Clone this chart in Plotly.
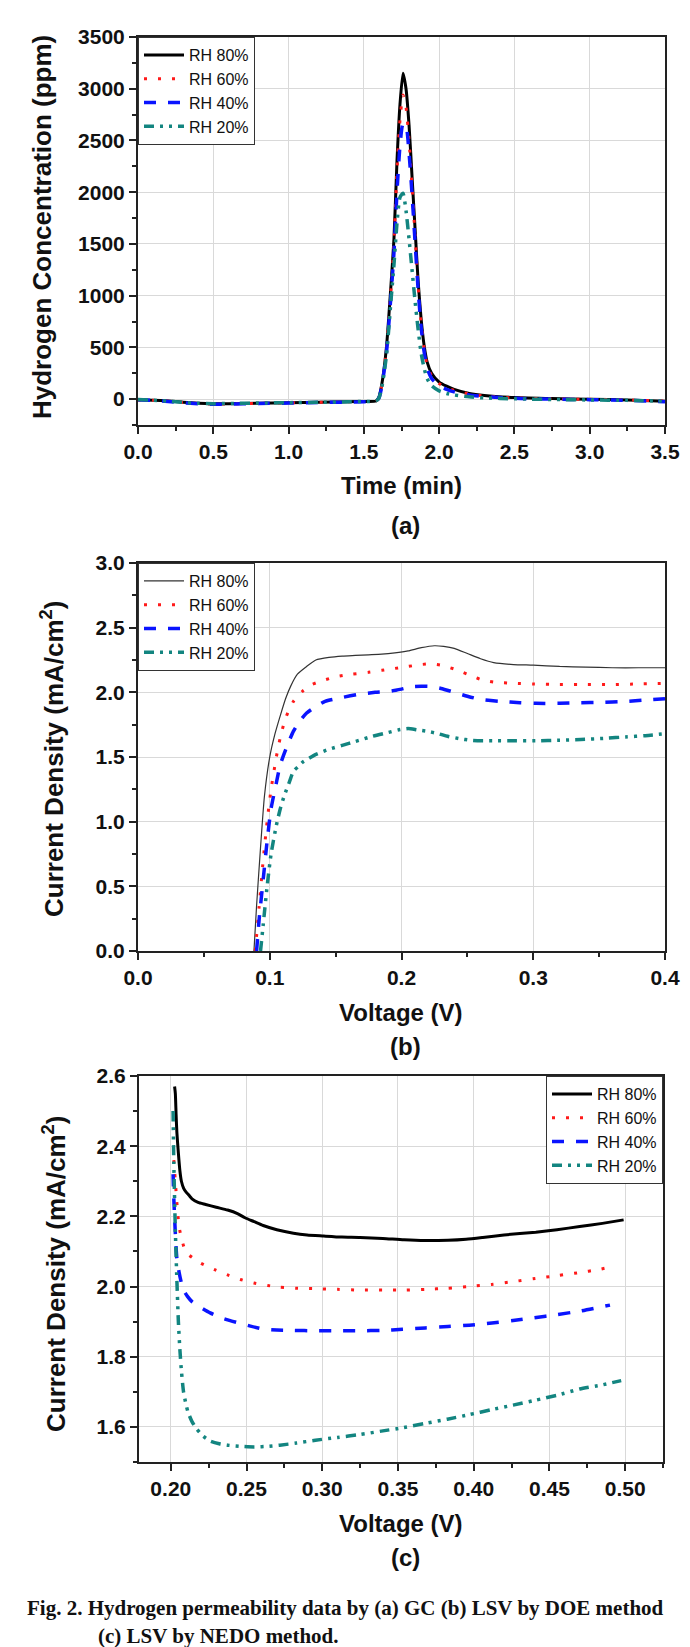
import plotly.graph_objects as go

# ---------------- Panel (a): GC ----------------
time_min = [0, 0.1, 0.2, 0.3, 0.4, 0.5, 0.6, 0.8, 1.0, 1.2, 1.4, 1.5, 1.58, 1.6, 1.62, 1.65,
            1.68, 1.7, 1.72, 1.74, 1.76, 1.78, 1.8, 1.82, 1.84, 1.86, 1.88, 1.9, 1.92, 1.95,
            2.0, 2.05, 2.1, 2.2, 2.3, 2.5, 2.75, 3.0, 3.25, 3.5]
gc_rh80 = [-5, -10, -18, -30, -40, -45, -45, -40, -35, -30, -25, -22, -18, 20, 150, 500,
           1100, 1550, 2300, 2850, 3150, 3000, 2650, 2150, 1650, 1150, 780, 520, 360, 250,
           165, 125, 95, 55, 35, 15, 5, 0, -8, -20]
gc_rh60 = [-8, -12, -20, -32, -42, -48, -46, -40, -35, -30, -26, -23, -19, 15, 140, 480,
           1050, 1500, 2200, 2700, 2940, 2820, 2500, 2050, 1580, 1100, 740, 490, 330, 225,
           150, 110, 85, 50, 30, 12, 3, -2, -8, -18]
gc_rh40 = [-6, -12, -22, -35, -45, -50, -48, -42, -38, -33, -28, -25, -20, 10, 130, 450,
           1000, 1420, 2000, 2450, 2660, 2640, 2380, 1980, 1520, 1070, 700, 460, 300, 200,
           130, 95, 70, 40, 25, 8, 0, -5, -12, -25]
gc_rh20 = [-4, -10, -20, -32, -40, -44, -42, -38, -34, -30, -26, -22, -18, 10, 120, 420,
           950, 1300, 1700, 1950, 1990, 1820, 1550, 1250, 950, 680, 450, 300, 200, 130,
           80, 55, 40, 22, 12, 3, -3, -8, -12, -20]

# ---------------- Panel (b): LSV by DOE ----------------
doe_v80 = [0.088, 0.090, 0.093, 0.096, 0.100, 0.104, 0.108, 0.112, 0.116, 0.121, 0.128, 0.135,
           0.145, 0.155, 0.165, 0.175, 0.185, 0.195, 0.205, 0.215, 0.225, 0.232, 0.240, 0.250,
           0.260, 0.270, 0.285, 0.300, 0.320, 0.340, 0.360, 0.380, 0.400]
doe_i80 = [0.0, 0.35, 0.80, 1.20, 1.50, 1.68, 1.82, 1.95, 2.05, 2.14, 2.20, 2.25,
           2.27, 2.28, 2.285, 2.29, 2.295, 2.305, 2.32, 2.345, 2.36, 2.355, 2.34, 2.30,
           2.26, 2.23, 2.215, 2.21, 2.20, 2.195, 2.19, 2.19, 2.19]
doe_v60 = [0.089, 0.092, 0.095, 0.098, 0.101, 0.105, 0.108, 0.112, 0.118, 0.125, 0.132, 0.140,
           0.150, 0.162, 0.175, 0.185, 0.195, 0.205, 0.215, 0.222, 0.230, 0.240, 0.250, 0.260,
           0.270, 0.285, 0.300, 0.320, 0.340, 0.360, 0.380, 0.400]
doe_i60 = [0.0, 0.35, 0.70, 1.00, 1.25, 1.50, 1.65, 1.80, 1.93, 2.01, 2.06, 2.09,
           2.12, 2.14, 2.155, 2.17, 2.185, 2.20, 2.215, 2.22, 2.21, 2.18, 2.14, 2.10,
           2.08, 2.07, 2.065, 2.06, 2.06, 2.06, 2.065, 2.07]
doe_v40 = [0.090, 0.092, 0.095, 0.098, 0.101, 0.105, 0.108, 0.113, 0.118, 0.123, 0.128, 0.135,
           0.142, 0.155, 0.168, 0.180, 0.192, 0.200, 0.209, 0.222, 0.230, 0.240, 0.250, 0.260,
           0.275, 0.290, 0.302, 0.320, 0.336, 0.350, 0.370, 0.385, 0.400]
doe_i40 = [0.0, 0.25, 0.55, 0.85, 1.10, 1.30, 1.44, 1.58, 1.70, 1.78, 1.84, 1.89,
           1.93, 1.96, 1.985, 2.0, 2.01, 2.025, 2.045, 2.045, 2.03, 2.0, 1.97, 1.945,
           1.93, 1.92, 1.915, 1.915, 1.92, 1.922, 1.93, 1.94, 1.95]
doe_v20 = [0.093, 0.095, 0.098, 0.101, 0.105, 0.108, 0.111, 0.115, 0.118, 0.122, 0.125, 0.130,
           0.135, 0.145, 0.155, 0.165, 0.178, 0.190, 0.198, 0.205, 0.212, 0.219, 0.228, 0.235,
           0.245, 0.252, 0.260, 0.269, 0.285, 0.302, 0.320, 0.336, 0.355, 0.370, 0.385, 0.400]
doe_i20 = [0.0, 0.20, 0.50, 0.75, 0.97, 1.10, 1.20, 1.31, 1.39, 1.43, 1.46, 1.49,
           1.52, 1.56, 1.59, 1.62, 1.66, 1.69, 1.71, 1.72, 1.71, 1.70, 1.68, 1.66,
           1.64, 1.63, 1.625, 1.625, 1.625, 1.625, 1.63, 1.635, 1.645, 1.655, 1.665, 1.68]

# ---------------- Panel (c): LSV by NEDO ----------------
nedo_v80 = [0.2025, 0.2030, 0.2035, 0.2040, 0.2050, 0.2060, 0.2070, 0.2085, 0.2100, 0.2120,
            0.2140, 0.2180, 0.2230, 0.2300, 0.2375, 0.2440, 0.2490, 0.2550, 0.2610, 0.2700,
            0.2810, 0.2900, 0.3010, 0.3130, 0.3250, 0.3400, 0.3540, 0.3680, 0.3830, 0.3950,
            0.4060, 0.4200, 0.4410, 0.4550, 0.4700, 0.4850, 0.4990]
nedo_i80 = [2.57, 2.55, 2.49, 2.44, 2.38, 2.33, 2.30, 2.28, 2.27, 2.26,
            2.25, 2.24, 2.234, 2.226, 2.218, 2.208, 2.196, 2.185, 2.174, 2.162,
            2.152, 2.147, 2.144, 2.141, 2.14, 2.137, 2.133, 2.131, 2.132, 2.135,
            2.14, 2.147, 2.155, 2.162, 2.171, 2.18, 2.19]
nedo_v60 = [0.2020, 0.2030, 0.2040, 0.2055, 0.2075, 0.2100, 0.2150, 0.2200, 0.2290, 0.2375,
            0.2460, 0.2550, 0.2640, 0.2720, 0.2840, 0.2955, 0.3100, 0.3246, 0.3400, 0.3536,
            0.3680, 0.3826, 0.3970, 0.4117, 0.4260, 0.4407, 0.4550, 0.4700, 0.4820, 0.4915]
nedo_i60 = [2.36, 2.30, 2.24, 2.17, 2.13, 2.098, 2.08, 2.066, 2.048, 2.033,
            2.02, 2.01, 2.003, 1.998, 1.995, 1.994, 1.992, 1.99, 1.99, 1.99,
            1.992, 1.995, 2.0, 2.006, 2.014, 2.023, 2.031, 2.04, 2.048, 2.057]
nedo_v40 = [0.2015, 0.2020, 0.2030, 0.2040, 0.2055, 0.2070, 0.2084, 0.2110, 0.2140, 0.2200,
            0.2260, 0.2340, 0.2433, 0.2520, 0.2610, 0.2700, 0.2810, 0.2950, 0.3100, 0.3250,
            0.3390, 0.3530, 0.3680, 0.3830, 0.3970, 0.4120, 0.4260, 0.4400, 0.4550, 0.4700,
            0.4900]
nedo_i40 = [2.32, 2.25, 2.15, 2.08, 2.04, 2.01, 1.99, 1.972, 1.957, 1.94,
            1.925, 1.91, 1.898, 1.888, 1.879, 1.876, 1.875, 1.874, 1.874, 1.874,
            1.875, 1.878, 1.882, 1.886, 1.89, 1.896, 1.903, 1.911, 1.92, 1.93,
            1.947]
nedo_v20 = [0.2015, 0.2020, 0.2030, 0.2040, 0.2050, 0.2060, 0.2070, 0.2084, 0.2100, 0.2113,
            0.2140, 0.2170, 0.2210, 0.2260, 0.2320, 0.2375, 0.2450, 0.2550, 0.2650, 0.2720,
            0.2830, 0.2955, 0.3100, 0.3246, 0.3390, 0.3536, 0.3680, 0.3826, 0.3970, 0.4117,
            0.4260, 0.4407, 0.4550, 0.4700, 0.4850, 0.4974]
nedo_i20 = [2.50, 2.35, 2.16, 2.02, 1.90, 1.82, 1.76, 1.70, 1.665, 1.643,
            1.615, 1.595, 1.575, 1.56, 1.552, 1.548, 1.545, 1.543, 1.545, 1.548,
            1.554, 1.562, 1.57, 1.578, 1.588, 1.598, 1.61, 1.622, 1.635, 1.649,
            1.662, 1.676, 1.69, 1.708, 1.72, 1.732]

series_names = ["RH 80%", "RH 60%", "RH 40%", "RH 20%"]

# ---------------- styling ----------------
W, H = 690, 1647
BLACK = "#000000"
RED = "#ff1a1a"
BLUE = "#0a14ff"
TEAL = "#138580"
SANS = "Liberation Sans, Arial, sans-serif"
SERIF = "Liberation Serif, Times New Roman, serif"

styles = [
    dict(color=BLACK, width=3, dash="solid"),
    dict(color=RED, width=3, dash="3px,11px"),
    dict(color=BLUE, width=3.5, dash="12px,12px"),
    dict(color=TEAL, width=3.5, dash="10px,6px,3px,6px,3px,6px"),
]


def px_x(p):
    return p / W


def px_y(p):
    return 1 - p / H


fig = go.Figure()

panels = [
    ("", "legend", [(time_min, gc_rh80), (time_min, gc_rh60), (time_min, gc_rh40), (time_min, gc_rh20)]),
    ("2", "legend2", [(doe_v80, doe_i80), (doe_v60, doe_i60), (doe_v40, doe_i40), (doe_v20, doe_i20)]),
    ("3", "legend3", [(nedo_v80, nedo_i80), (nedo_v60, nedo_i60), (nedo_v40, nedo_i40), (nedo_v20, nedo_i20)]),
]

for pi, (suffix, leg, data) in enumerate(panels):
    for si, (xs, ys) in enumerate(data):
        st = dict(styles[si])
        if pi == 1 and si == 0:
            st = dict(color="#333333", width=1.2, dash="solid")
        fig.add_trace(go.Scatter(
            x=xs, y=ys, mode="lines", name=series_names[si],
            line=dict(color=st["color"], width=st["width"], dash=st["dash"], shape="spline", smoothing=0.6),
            xaxis="x" + suffix, yaxis="y" + suffix, legend=leg,
        ))

tickfont = dict(family=SANS, size=21, color="#111111", weight="bold")
axis_common = dict(
    showline=True, linewidth=2, linecolor="#222222", mirror=True,
    ticks="outside", ticklen=7, tickwidth=1.5, tickcolor="#222222",
    showgrid=True, gridcolor="#d9d9d9", gridwidth=1, zeroline=False,
    tickfont=tickfont, automargin=False,
)

# pixel frames: (left, right, top, bottom)
frames = [(130, 657, 29, 417), (130, 657, 555, 943), (131, 655, 1068, 1454)]

fig.update_layout(
    xaxis=dict(**axis_common, domain=[px_x(frames[0][0]), px_x(frames[0][1])], anchor="y",
               range=[0, 3.5], dtick=0.5, tick0=0, tickformat=".1f",
               minor=dict(ticks="outside", ticklen=4, dtick=0.25, tick0=0, tickwidth=1.5, tickcolor="#222222", showgrid=False)),
    yaxis=dict(**axis_common, domain=[px_y(frames[0][3]), px_y(frames[0][2])], anchor="x",
               range=[-250, 3500], dtick=500, tick0=0,
               minor=dict(ticks="outside", ticklen=4, dtick=250, tick0=0, tickwidth=1.5, tickcolor="#222222", showgrid=False)),
    xaxis2=dict(**axis_common, domain=[px_x(frames[1][0]), px_x(frames[1][1])], anchor="y2",
                range=[0, 0.4], dtick=0.1, tick0=0, tickformat=".1f",
                minor=dict(ticks="outside", ticklen=4, dtick=0.05, tick0=0, tickwidth=1.5, tickcolor="#222222", showgrid=False)),
    yaxis2=dict(**axis_common, domain=[px_y(frames[1][3]), px_y(frames[1][2])], anchor="x2",
                range=[0, 3.0], dtick=0.5, tick0=0, tickformat=".1f",
                minor=dict(ticks="outside", ticklen=4, dtick=0.25, tick0=0, tickwidth=1.5, tickcolor="#222222", showgrid=False)),
    xaxis3=dict(**axis_common, domain=[px_x(frames[2][0]), px_x(frames[2][1])], anchor="y3",
                range=[0.179, 0.525], dtick=0.05, tick0=0.2, tickformat=".2f",
                minor=dict(ticks="outside", ticklen=4, dtick=0.025, tick0=0.2, tickwidth=1.5, tickcolor="#222222", showgrid=False)),
    yaxis3=dict(**axis_common, domain=[px_y(frames[2][3]), px_y(frames[2][2])], anchor="x3",
                range=[1.5, 2.6], dtick=0.2, tick0=1.6, tickformat=".1f",
                minor=dict(ticks="outside", ticklen=4, dtick=0.1, tick0=1.5, tickwidth=1.5, tickcolor="#222222", showgrid=False)),
)

leg_common = dict(
    bgcolor="white", bordercolor="#333333", borderwidth=1,
    font=dict(family=SANS, size=16, color="#111111"),
    itemwidth=40, tracegroupgap=0, xanchor="left", yanchor="top",
    itemclick=False,
)
fig.update_layout(
    legend=dict(**leg_common, x=px_x(130), y=px_y(29)),
    legend2=dict(**leg_common, x=px_x(130), y=px_y(555)),
    legend3=dict(**leg_common, x=px_x(655), y=px_y(1068)),
)
fig.update_layout(legend3=dict(xanchor="right"))

ann = []
title_font = dict(family=SANS, size=24, color="#111111", weight="bold")
ytitle_font = dict(family=SANS, size=26, color="#111111", weight="bold")


def add_text(text, xp, yp, font, angle=0, xanchor="center"):
    ann.append(dict(text=text, x=px_x(xp), y=px_y(yp), xref="paper", yref="paper",
                    showarrow=False, font=font, textangle=angle,
                    xanchor=xanchor, yanchor="middle"))


add_text("Hydrogen Concentration (ppm)", 34, 219, ytitle_font, -90)
add_text("Time (min)", 393, 478, title_font)
add_text("(a)", 397, 517, title_font)

add_text("Current Density (mA/cm<sup>2</sup>)", 44, 751, ytitle_font, -90)
add_text("Voltage (V)", 393, 1004, title_font)
add_text("(b)", 397, 1038, title_font)

add_text("Current Density (mA/cm<sup>2</sup>)", 46, 1266, ytitle_font, -90)
add_text("Voltage (V)", 393, 1515, title_font)
add_text("(c)", 397, 1549, title_font)

cap_font = dict(family=SERIF, size=21, color="#111111", weight="bold")
add_text("Fig. 2. Hydrogen permeability data by (a) GC (b) LSV by DOE method", 17, 1600, cap_font, 0, "left")
add_text("(c) LSV by NEDO method.", 88, 1628, cap_font, 0, "left")

fig.update_layout(
    annotations=ann,
    width=W, height=H, autosize=False,
    margin=dict(l=0, r=0, t=0, b=0),
    paper_bgcolor="white", plot_bgcolor="white",
    showlegend=True,
)

fig.write_html("out.html")
